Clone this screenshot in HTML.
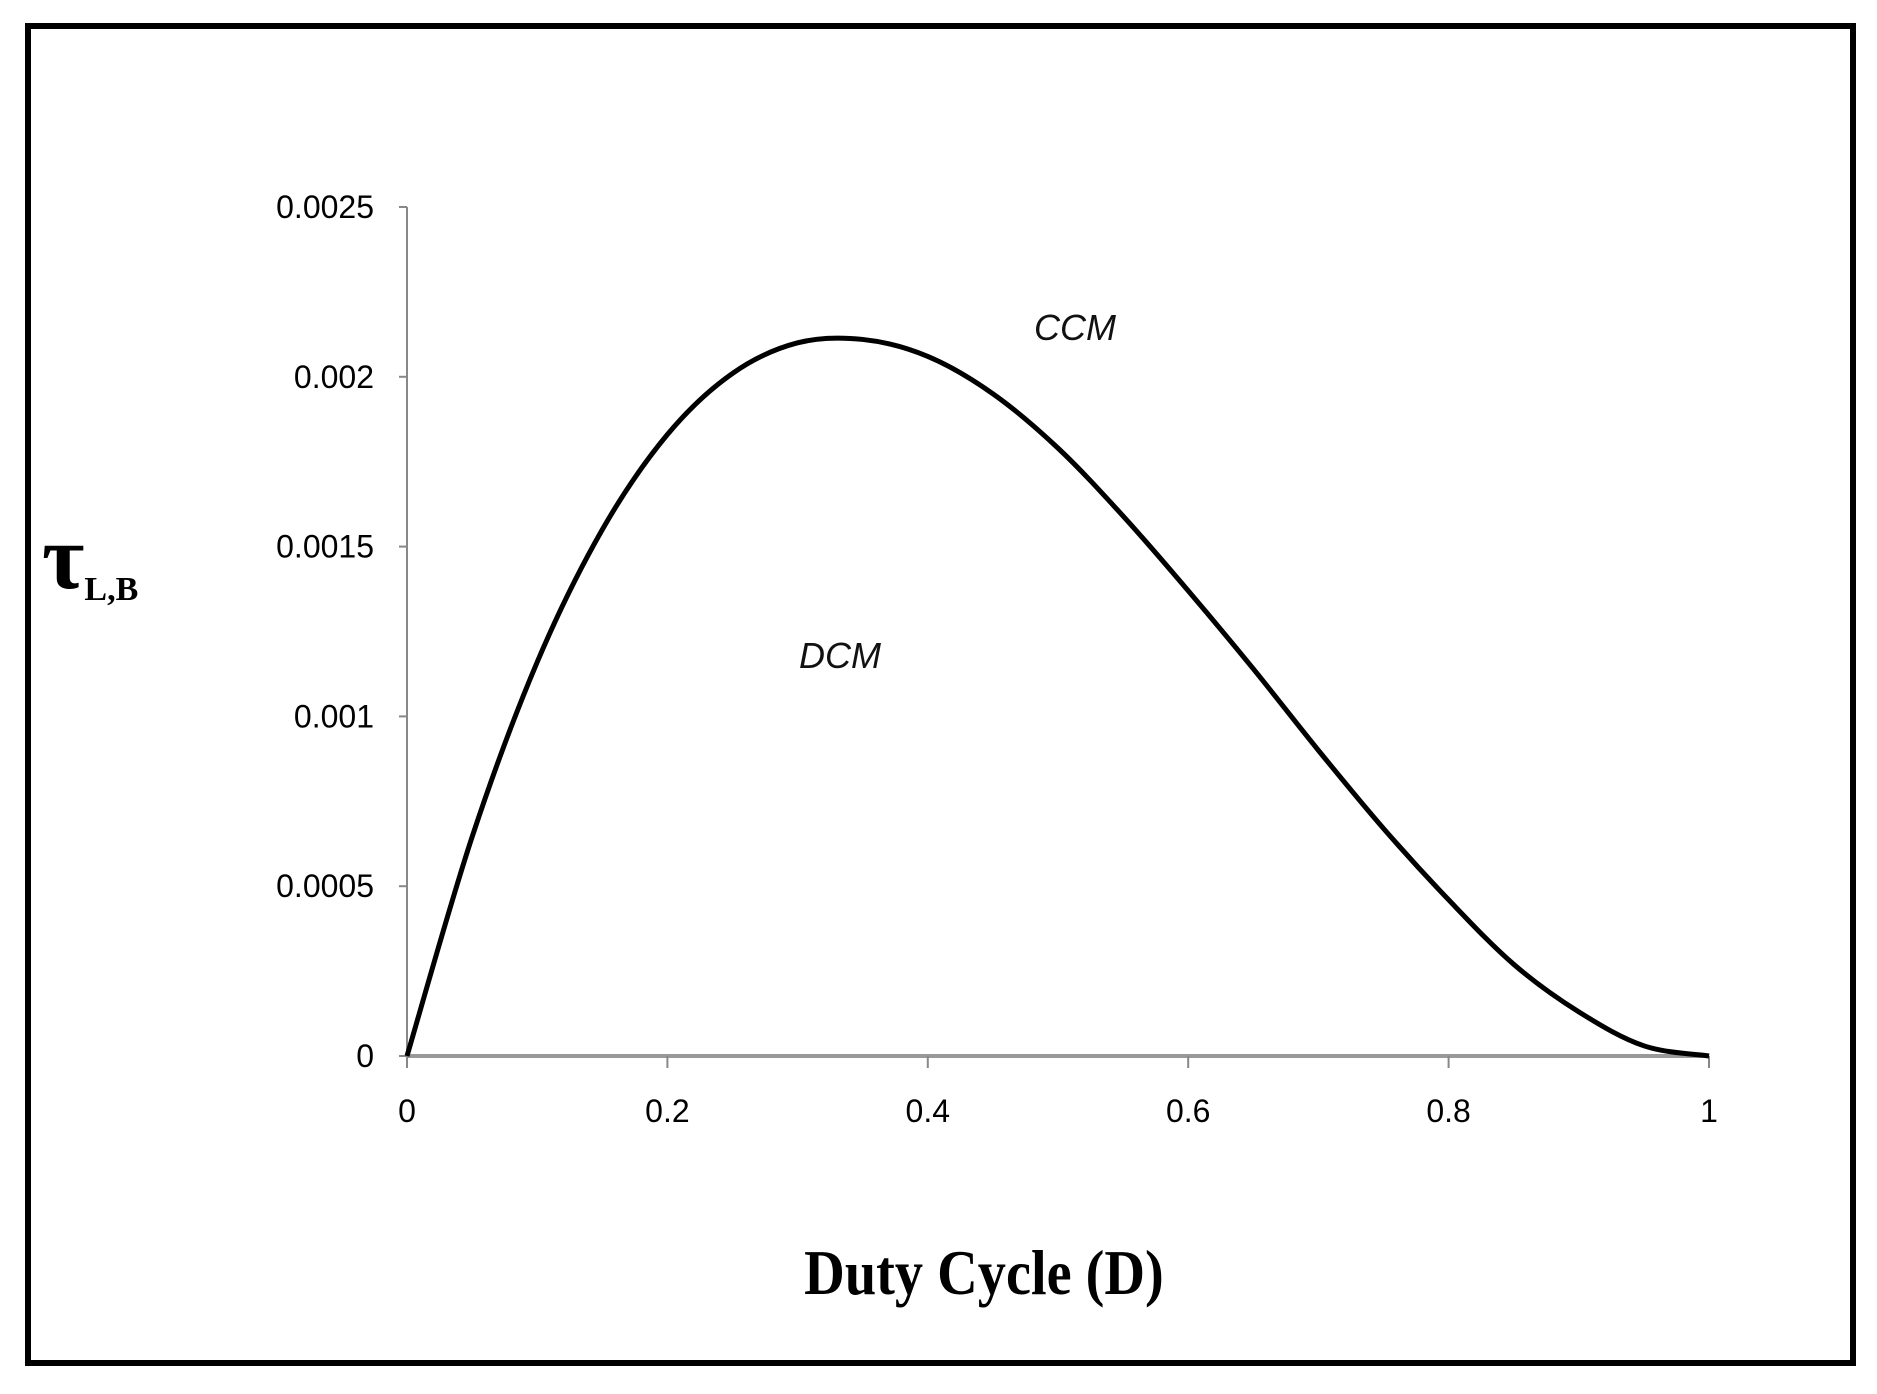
<!DOCTYPE html>
<html><head><meta charset="utf-8"><style>
html,body{margin:0;padding:0;background:#fff;}
svg{display:block;}
</style></head><body>
<svg width="1877" height="1394" viewBox="0 0 1877 1394" xmlns="http://www.w3.org/2000/svg">
<rect x="28" y="26" width="1825" height="1337" fill="#fff" stroke="#000" stroke-width="6"/>
<g id="axes"></g>
<g id="series"></g>
<text x="42" y="588" font-family="Liberation Serif, serif" font-size="92" font-weight="bold">τ<tspan font-size="34" dy="12" transform="scale(0.85,1)">L,B</tspan></text>
<text x="0" y="0" text-anchor="middle" font-family="Liberation Serif, serif" font-size="64" font-weight="bold" transform="translate(984,1294) scale(0.88,1)">Duty Cycle (D)</text>
<text x="1075" y="340" text-anchor="middle" font-family="Liberation Sans, sans-serif" font-style="italic" font-size="36" fill="#111">CCM</text>
<text x="840" y="668" text-anchor="middle" font-family="Liberation Sans, sans-serif" font-style="italic" font-size="36" fill="#111">DCM</text>
</svg>
<script>
const xTicks = [0, 0.2, 0.4, 0.6, 0.8, 1];
const xTickLabels = ["0", "0.2", "0.4", "0.6", "0.8", "1"];
const yTicks = [0, 0.0005, 0.001, 0.0015, 0.002, 0.0025];
const yTickLabels = ["0", "0.0005", "0.001", "0.0015", "0.002", "0.0025"];
const dutyCycle = [0,0.05,0.1,0.15,0.2,0.25,0.3,0.35,0.4,0.45,0.5,0.55,0.6,0.65,0.7,0.75,0.8,0.85,0.9,0.95,1];
const tauLB = [0,0.000645,0.00116,0.00155,0.00183,0.00201,0.00210,0.00211,0.00206,0.00195,0.00179,0.00159,0.00137,0.00114,0.00090,0.00067,0.00046,0.00027,0.00013,0.00003,0];

const NS = "http://www.w3.org/2000/svg";
const X0 = 407, X1 = 1709, Y0 = 1056, Y1 = 207;
const xs = v => X0 + (v - 0) / (1 - 0) * (X1 - X0);
const ys = v => Y0 - (v - 0) / 0.0025 * (Y0 - Y1);
const axes = document.getElementById('axes');
const series = document.getElementById('series');
function mk(tag, attrs, parent) {
  const e = document.createElementNS(NS, tag);
  for (const k in attrs) e.setAttribute(k, attrs[k]);
  parent.appendChild(e);
  return e;
}
const ya = mk('line', {x1: X0, y1: Y1, x2: X0, y2: Y0, stroke: '#888', 'stroke-width': 2}, axes);


const xa = mk('line', {x1: X0, y1: Y0, x2: X1, y2: Y0, stroke: '#999', 'stroke-width': 4}, axes);


yTicks.forEach((t, i) => {
  const y = ys(t);
  const tk = mk('line', {x1: X0 - 8, y1: y, x2: X0, y2: y, stroke: '#888', 'stroke-width': 2}, axes);
  
  
  const tx = mk('text', {x: 374, y: y + 11, 'text-anchor': 'end', 'font-family': 'Liberation Sans Narrow, Liberation Sans, sans-serif', 'font-size': 32, fill: '#000'}, axes);
  tx.textContent = yTickLabels[i];
  
  
});
xTicks.forEach((t, i) => {
  const x = xs(t);
  const tk = mk('line', {x1: x, y1: Y0, x2: x, y2: Y0 + 12, stroke: '#888', 'stroke-width': 2}, axes);
  
  
  const tx = mk('text', {x: x, y: 1122, 'text-anchor': 'middle', 'font-family': 'Liberation Sans Narrow, Liberation Sans, sans-serif', 'font-size': 32, fill: '#000'}, axes);
  tx.textContent = xTickLabels[i];
  
  
});
const pts = dutyCycle.map((d, i) => [xs(d), ys(tauLB[i])]);
let d = 'M' + pts[0][0] + ',' + pts[0][1];
for (let i = 0; i < pts.length - 1; i++) {
  const p0 = pts[Math.max(i - 1, 0)], p1 = pts[i], p2 = pts[i + 1], p3 = pts[Math.min(i + 2, pts.length - 1)];
  const c1 = [p1[0] + (p2[0] - p0[0]) / 6, p1[1] + (p2[1] - p0[1]) / 6];
  const c2 = [p2[0] - (p3[0] - p1[0]) / 6, p2[1] - (p3[1] - p1[1]) / 6];
  d += ' C' + c1[0] + ',' + c1[1] + ' ' + c2[0] + ',' + c2[1] + ' ' + p2[0] + ',' + p2[1];
}
const curve = mk('path', {d: d, fill: 'none', stroke: '#000', 'stroke-width': 5}, series);


</script>
</body></html>
